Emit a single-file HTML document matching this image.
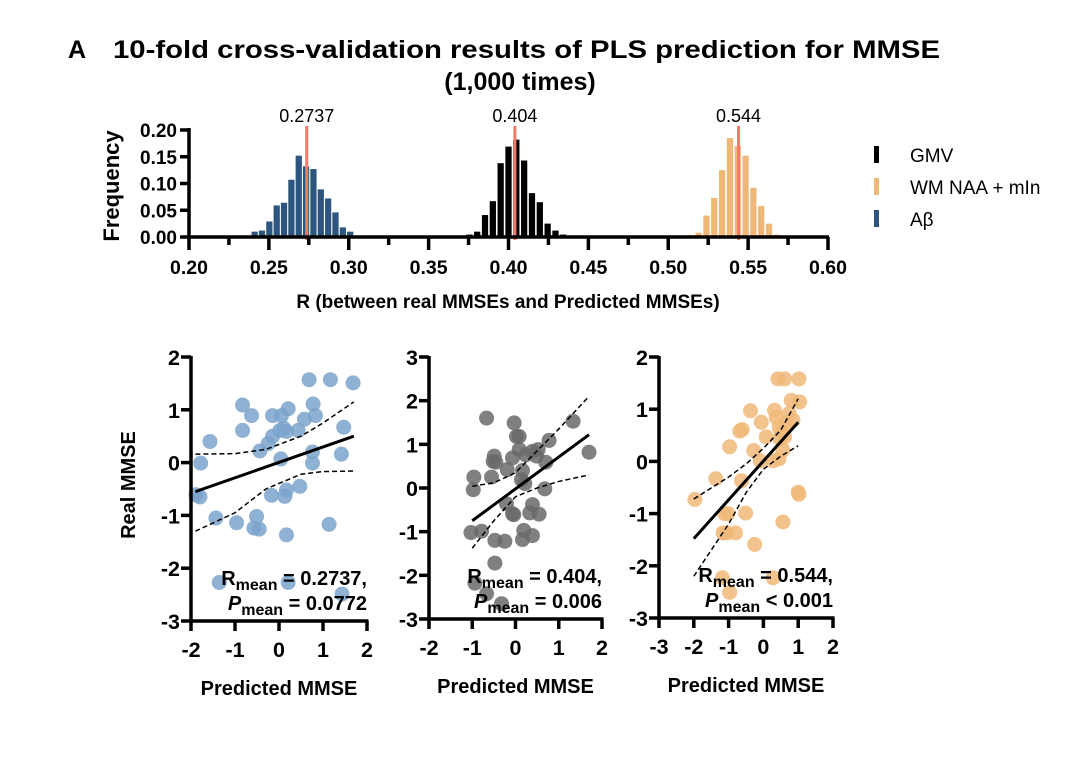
<!DOCTYPE html>
<html><head><meta charset="utf-8"><style>
html,body{margin:0;padding:0;background:#fff}
svg{display:block;font-family:"Liberation Sans",Arial,sans-serif}
</style></head><body>
<svg id="fig" width="1089" height="758" viewBox="0 0 1089 758">
<text x="68" y="58" font-size="25" font-weight="bold">A</text>
<text x="113" y="58" font-size="25" font-weight="bold" textLength="827" lengthAdjust="spacingAndGlyphs">10-fold cross-validation results of PLS prediction for MMSE</text>
<text x="520" y="90" font-size="25" font-weight="bold" text-anchor="middle">(1,000 times)</text>
<g id="hist"></g>
<g id="legend">
<rect x="874" y="146" width="5" height="17" fill="#000"/>
<text x="910" y="162" font-size="19">GMV</text>
<rect x="874" y="178" width="5" height="17" fill="#f0b878"/>
<text x="910" y="194" font-size="19">WM NAA + mIn</text>
<rect x="874" y="210" width="5" height="17" fill="#2d5580"/>
<text x="910" y="226" font-size="19">Aβ</text>
</g>
<g id="scatters"></g>
</svg>
<script>
// ---- histogram data ----
const blueCenters=[0.2365,0.2411,0.2457,0.2503,0.2549,0.2595,0.2641,0.2687,0.2733,0.2779,0.2825,0.2871,0.2917,0.2963,0.3009,0.3055,0.3101];
const blueFreq=[0.0025,0.010,0.012,0.029,0.059,0.064,0.107,0.152,0.132,0.127,0.089,0.072,0.046,0.018,0.010,0.001,0.0005];
const blackCenters=[0.3706,0.3755,0.3804,0.3853,0.3902,0.3951,0.4000,0.4049,0.4098,0.4147,0.4196,0.4245,0.4294,0.4343];
const blackFreq=[0.0025,0.0045,0.010,0.041,0.067,0.138,0.169,0.182,0.143,0.082,0.065,0.025,0.012,0.0045];
const orangeCenters=[0.5141,0.5190,0.5239,0.5288,0.5337,0.5386,0.5435,0.5484,0.5533,0.5582,0.5631,0.5680,0.5729];
const orangeFreq=[0.004,0.008,0.040,0.073,0.125,0.185,0.170,0.152,0.092,0.058,0.025,0.0045,0.001];
const meanVals=[0.2737,0.404,0.544];
const meanLabels=["0.2737","0.404","0.544"];
const histXTicks=[0.20,0.25,0.30,0.35,0.40,0.45,0.50,0.55,0.60];
const histYTicks=[0.00,0.05,0.10,0.15,0.20];

// ---- scatter data ----
const p1x=[0.684,1.168,1.683,-0.828,0.775,-0.624,-0.147,0.057,0.208,0.828,0.578,1.471,-0.828,-1.569,0.019,0.170,0.110,0.435,-0.147,-0.246,-0.435,-1.78,0.042,0.760,0.760,1.418,-1.887,-1.796,-0.170,0.132,0.170,0.473,-1.433,-0.964,-0.510,-0.571,-0.450,0.170,1.138,-1.357,0.208,1.433];
const p1y=[1.57,1.57,1.51,1.09,1.11,0.89,0.89,0.89,1.02,0.89,0.82,0.67,0.61,0.40,0.61,0.59,0.65,0.61,0.50,0.36,0.22,-0.01,0.07,0.20,-0.01,0.16,-0.61,-0.65,-0.62,-0.64,-0.52,-0.45,-1.05,-1.14,-1.02,-1.24,-1.26,-1.37,-1.17,-2.27,-2.27,-2.49];
const p2x=[-0.669,-0.031,1.331,0.023,0.085,0.777,1.70,-0.492,-0.515,-0.454,0.085,-0.069,0.238,0.392,0.523,0.485,0.70,-0.962,-0.554,-0.192,0.162,0.138,0.215,-0.977,0.677,-0.208,-0.069,-0.04,0.392,0.33,0.546,-1.03,-0.785,-0.477,-0.246,0.192,0.162,0.392,-0.477,-0.938,-0.669,-0.323];
const p2y=[1.60,1.49,1.53,1.18,1.18,1.09,0.82,0.73,0.61,0.59,0.88,0.69,0.76,0.84,0.88,0.73,0.59,0.25,0.25,0.42,0.40,0.19,0.10,-0.04,-0.02,-0.36,-0.59,-0.61,-0.38,-0.57,-0.60,-1.02,-0.99,-1.20,-1.22,-0.97,-1.18,-1.09,-1.72,-2.18,-2.42,-2.65];
const p3x=[0.42,0.61,1.02,0.80,1.04,-0.37,0.32,0.74,0.37,-0.06,0.85,0.66,-0.68,-0.61,0.08,0.45,0.54,0.47,0.61,-0.97,-0.28,0.56,-0.09,0.28,0.45,-1.37,-0.63,-1.97,1.0,1.02,-1.11,-1.02,-0.51,0.56,-1.16,-1.05,-0.80,-0.25,-1.18,0.28,-0.97];
const p3y=[1.58,1.58,1.58,1.17,1.14,0.97,0.98,0.92,0.84,0.75,0.79,0.74,0.58,0.61,0.47,0.65,0.56,0.44,0.47,0.28,0.21,0.22,0.01,0.01,0.05,-0.33,-0.37,-0.73,-0.59,-0.63,-1.0,-1.0,-0.99,-1.16,-1.37,-1.37,-1.37,-1.59,-2.23,-2.23,-2.51];
const p1fitX=[-1.9,1.7], p1fitY=[-0.55,0.5];
const p1ciX=[-1.9,-1.0,-0.3,0.5,1.0,1.7];
const p1up=[0.16,0.17,0.25,0.5,0.75,1.15];
const p1lo=[-1.3,-0.95,-0.5,-0.22,-0.17,-0.16];
const p2fitX=[-1.0,1.7], p2fitY=[-0.75,1.22];
const p2ciX=[-1.0,-0.5,0.0,0.5,1.0,1.7];
const p2up=[0.04,0.12,0.35,0.85,1.35,2.1];
const p2lo=[-1.38,-0.75,-0.2,0.0,0.15,0.3];
const p3fitX=[-2.0,1.0], p3fitY=[-1.48,0.75];
const p3ciX=[-2.0,-1.0,-0.5,0.0,0.5,1.0];
const p3up=[-0.72,-0.3,-0.05,0.25,0.6,1.2];
const p3lo=[-2.2,-1.2,-0.6,-0.15,0.1,0.3];

const NS="http://www.w3.org/2000/svg";
function mk(tag,attrs,parent,txt){const e=document.createElementNS(NS,tag);for(const k in attrs)e.setAttribute(k,attrs[k]);if(txt!==undefined)e.textContent=txt;parent.appendChild(e);return e;}

// ---- histogram ----
const H=document.getElementById('hist');
const hx=v=>189+(v-0.2)/0.4*639;
const hy=v=>237-v/0.2*107;
const binW=0.0046/0.4*639*0.85;
function bars(cs,fs,col,name){
 cs.forEach((c,i)=>{const r=mk('rect',{x:hx(c)-binW/2,y:hy(fs[i]),width:binW,height:237-hy(fs[i]),fill:col},H);
 
 });
}
bars(blueCenters,blueFreq,'#2d5580','abeta');
bars(blackCenters,blackFreq,'#000','gmv');
bars(orangeCenters,orangeFreq,'#f0b878','wm');
meanVals.forEach((m,i)=>{const l=mk('line',{x1:hx(m),x2:hx(m),y1:126,y2:240,stroke:'#f47a6a','stroke-width':3},H);
 
 
 const t=mk('text',{x:hx(m),y:122,'font-size':18,'text-anchor':'middle'},H,meanLabels[i]);
 
 });
mk('line',{x1:189,x2:189,y1:128,y2:239,stroke:'#000','stroke-width':3.5},H);
mk('line',{x1:187,x2:829,y1:237,y2:237,stroke:'#000','stroke-width':3.5},H);
histYTicks.forEach(v=>{mk('line',{x1:180,x2:189,y1:hy(v),y2:hy(v),stroke:'#000','stroke-width':3.5},H);
 const t=mk('text',{x:177,y:hy(v)+7,'font-size':19,'font-weight':'bold','text-anchor':'end'},H,v.toFixed(2));
 
 });
histXTicks.forEach((v,i)=>{mk('line',{x1:hx(v),x2:hx(v),y1:237,y2:250,stroke:'#000','stroke-width':3.5},H);
 if(i<histXTicks.length-1)mk('line',{x1:hx(v+0.025),x2:hx(v+0.025),y1:237,y2:245,stroke:'#000','stroke-width':3.5},H);
 const t=mk('text',{x:hx(v),y:274,'font-size':19.5,'font-weight':'bold','text-anchor':'middle'},H,v.toFixed(2));
 
 });
const yt=mk('text',{x:0,y:0,'font-size':22,'font-weight':'bold','text-anchor':'middle',transform:'translate(119,186) rotate(-90)'},H,'Frequency');


const xt=mk('text',{x:508,y:308,'font-size':19,'font-weight':'bold','text-anchor':'middle'},H,'R (between real MMSEs and Predicted MMSEs)');



// ---- scatter panels ----
const S=document.getElementById('scatters');
function panel(o){
 const g=mk('g',{},S);
 
 
 const sx=v=>o.x0+(v-o.xmin)/(o.xmax-o.xmin)*(o.x1-o.x0);
 const sy=v=>o.yb-(v-o.ymin)/(o.ymax-o.ymin)*(o.yb-o.yt);
 o.px.forEach((x,i)=>{const c=mk('circle',{cx:sx(x),cy:sy(o.py[i]),r:7.5,fill:o.col,'fill-opacity':0.85},g);
  
  });
 const fl=mk('line',{x1:sx(o.fx[0]),y1:sy(o.fy[0]),x2:sx(o.fx[1]),y2:sy(o.fy[1]),stroke:'#000','stroke-width':3},g);
 
 
 [o.up,o.lo].forEach(arr=>{const d=o.cx.map((x,i)=>(i?'L':'M')+sx(x)+','+sy(arr[i])).join(' ');
  const p=mk('path',{d:d,fill:'none',stroke:'#000','stroke-width':1.5,'stroke-dasharray':'5,3'},g);
  
  });
 mk('line',{x1:o.x0,x2:o.x0,y1:o.yt-1,y2:o.yb+1.5,stroke:'#000','stroke-width':3.5},g);
 mk('line',{x1:o.x0-1.5,x2:o.x1+1.5,y1:o.yb,y2:o.yb,stroke:'#000','stroke-width':3.5},g);
 for(let v=o.ymin;v<=o.ymax;v++){mk('line',{x1:o.x0-10,x2:o.x0,y1:sy(v),y2:sy(v),stroke:'#000','stroke-width':3.5},g);
  const t=mk('text',{x:o.x0-11,y:sy(v)+8,'font-size':21.5,'font-weight':'bold','text-anchor':'end'},g,String(v));
  
  }
 for(let v=o.xmin;v<=o.xmax;v++){mk('line',{x1:sx(v),x2:sx(v),y1:o.yb,y2:o.yb+10,stroke:'#000','stroke-width':3.5},g);
  const t=mk('text',{x:sx(v),y:o.yb+36,'font-size':21.5,'font-weight':'bold','text-anchor':'middle'},g,String(v));
  
  }
 const r=mk('text',{x:o.x1,y:o.yb-36,'font-size':20,'font-weight':'bold','text-anchor':'end'},g);
 
 
 r.innerHTML='R<tspan font-size="16" dy="5">mean</tspan><tspan dy="-5"> = '+o.r+',</tspan>';
 const p=mk('text',{x:o.x1,y:o.yb-11,'font-size':20,'font-weight':'bold','text-anchor':'end'},g);
 
 
 p.innerHTML='<tspan font-style="italic">P</tspan><tspan font-size="16" dy="5">mean</tspan><tspan dy="-5"> '+o.p+'</tspan>';
 const xt=mk('text',{x:(o.x0+o.x1)/2,y:o.yb+74,'font-size':20,'font-weight':'bold','text-anchor':'middle'},g,'Predicted MMSE');
 
 
}
panel({name:'scatter-abeta',x0:191,x1:367,xmin:-2,xmax:2,yt:357,yb:621,ymin:-3,ymax:2,px:p1x,py:p1y,col:'#7ba3cb',fx:p1fitX,fy:p1fitY,cx:p1ciX,up:p1up,lo:p1lo,r:'0.2737',p:'= 0.0772'});
panel({name:'scatter-gmv',x0:429,x1:602,xmin:-2,xmax:2,yt:357,yb:619,ymin:-3,ymax:3,px:p2x,py:p2y,col:'#6a6a6a',fx:p2fitX,fy:p2fitY,cx:p2ciX,up:p2up,lo:p2lo,r:'0.404',p:'= 0.006'});
panel({name:'scatter-wm',x0:659,x1:833,xmin:-3,xmax:2,yt:357,yb:618,ymin:-3,ymax:2,px:p3x,py:p3y,col:'#f0b878',fx:p3fitX,fy:p3fitY,cx:p3ciX,up:p3up,lo:p3lo,r:'0.544',p:'&lt; 0.001'});
const rt=mk('text',{x:0,y:0,'font-size':20,'font-weight':'bold','text-anchor':'middle',transform:'translate(135,485) rotate(-90)'},S,'Real MMSE');


</script>
</body></html>
